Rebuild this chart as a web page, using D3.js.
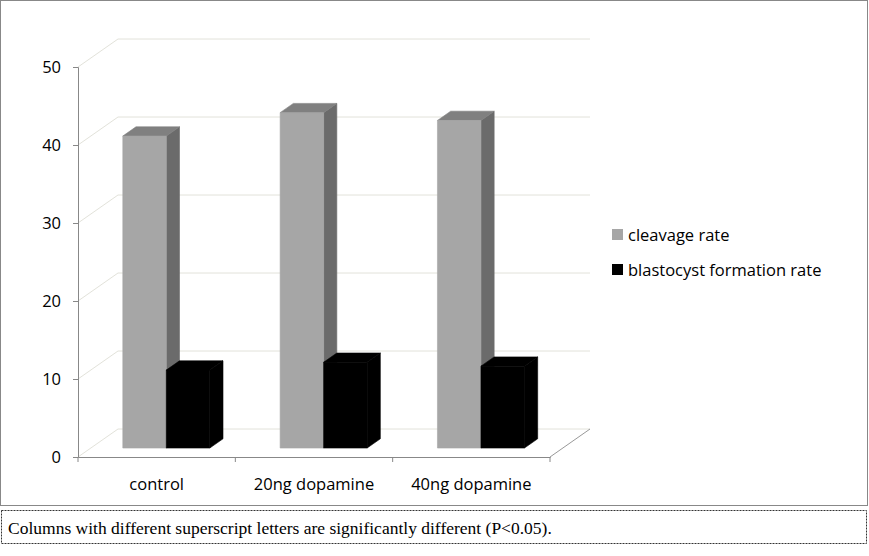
<!DOCTYPE html>
<html><head><meta charset="utf-8">
<script src="https://cdn.jsdelivr.net/npm/d3@7"></script>
<style>body{margin:0;background:#fff}</style>
</head><body>
<svg id="c" width="869" height="556"></svg>
<script>
const categories = ["control", "20ng dopamine", "40ng dopamine"];
const seriesNames = ["cleavage rate", "blastocyst formation rate"];
const cleavage = [40, 43, 42];
const blastocyst = [10, 11, 10.5];
const yTicks = [0, 10, 20, 30, 40, 50];

const svg = d3.select("#c");
const DX = 40, DY = -28;           // depth offset of back wall
const proj = (x, y, z) => [x + z * DX, y + z * DY];

const x = d3.scaleBand().domain(categories).range([78, 550]);
const y = d3.scaleLinear().domain([0, 50]).range([457, 67]);

// outer frame
svg.append("rect").attr("x", 0.5).attr("y", 0.5).attr("width", 867).attr("height", 505)
  .attr("fill", "none").attr("stroke", "#888");

// gridlines (left wall + back wall)
const grid = svg.append("g").attr("stroke", "#e2e2da").attr("fill", "none");
yTicks.forEach(t => {
  const a = proj(78, y(t), 0), b = proj(78, y(t), 1), c = proj(550, y(t), 1);
  grid.append("polyline").attr("points", [a, b, c].map(p => p.join(",")).join(" "));
});
// floor right diagonal
const fr0 = proj(550, y(0), 0), fr1 = proj(550, y(0), 1);
svg.append("line").attr("x1", fr0[0]).attr("y1", fr0[1]).attr("x2", fr1[0]).attr("y2", fr1[1])
  .attr("stroke", "#999");

// bars
const z0 = 0.32, z1 = 0.65, bw = 43.5;
const series = [
  {vals: cleavage, front: "#a6a6a6", side: "#6b6b6b", top: "#808080"},
  {vals: blastocyst, front: "#000", side: "#000", top: "#000"}
];
const bars = svg.append("g");
categories.forEach((cat, i) => {
  series.forEach((s, k) => {
    const xl = x(cat) + 32 + k * bw, xr = xl + bw;
    const yb = y(0), yt = y(s.vals[i]);
    const P = (xx, yy, z) => proj(xx, yy, z).join(",");
    bars.append("polygon").attr("fill", s.side).attr("stroke", s.side).attr("stroke-width", 0.6)
      .attr("points", [P(xr, yb, z0), P(xr, yb, z1), P(xr, yt, z1), P(xr, yt, z0)].join(" "));
    bars.append("polygon").attr("fill", s.top).attr("stroke", s.top).attr("stroke-width", 0.6)
      .attr("points", [P(xl, yt, z0), P(xr, yt, z0), P(xr, yt, z1), P(xl, yt, z1)].join(" "));
    bars.append("polygon").attr("fill", s.front).attr("stroke", s.front).attr("stroke-width", 0.6)
      .attr("points", [P(xl, yb, z0), P(xr, yb, z0), P(xr, yt, z0), P(xl, yt, z0)].join(" "));
  });
});

// y axis
const yAxis = svg.append("g").attr("transform", "translate(78,0)")
  .call(d3.axisLeft(y).tickValues(yTicks).tickSize(5).tickPadding(12));
yAxis.select(".domain").attr("stroke", "#888");
yAxis.selectAll(".tick line").attr("stroke", "#888");
yAxis.selectAll("text").attr("font-family", "Open Sans").attr("font-size", 16.5).attr("fill", "#000");

// x axis
const xAxis = svg.append("g").attr("transform", `translate(0,${y(0)})`)
  .call(d3.axisBottom(x).tickSize(0).tickPadding(21));
xAxis.select(".domain").attr("stroke", "#888");
xAxis.selectAll("text").attr("font-family", "Open Sans").attr("font-size", 16.5).attr("fill", "#000");
const xt = x.domain().map(d => x(d)).concat([550]);
svg.append("g").selectAll("line").data(xt).join("line")
  .attr("x1", d => d).attr("x2", d => d).attr("y1", y(0)).attr("y2", y(0) + 5).attr("stroke", "#888");

// legend
const lg = svg.append("g").attr("transform", "translate(612,229)");
seriesNames.forEach((n, i) => {
  lg.append("rect").attr("x", 0).attr("y", i * 35).attr("width", 11).attr("height", 11)
    .attr("fill", series[i].front);
  lg.append("text").attr("x", 16).attr("y", i * 35 + 12).text(n)
    .attr("font-family", "Open Sans").attr("font-size", 16.5);
});

// caption box
svg.append("rect").attr("x", 1.5).attr("y", 510.5).attr("width", 865).attr("height", 33)
  .attr("fill", "none").attr("stroke", "#333").attr("stroke-dasharray", "2,1");
svg.append("text").attr("x", 8).attr("y", 534)
  .attr("font-family", "Liberation Serif").attr("font-size", 17.5)
  .text("Columns with different superscript letters are significantly different (P<0.05).");
</script>
</body></html>
